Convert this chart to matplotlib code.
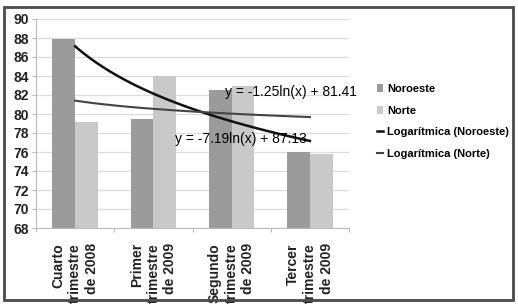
import numpy as np
import matplotlib as mpl
mpl.use('Agg')
import matplotlib.pyplot as plt
from matplotlib.patches import Rectangle

plt.rcParams['font.family'] = ['Liberation Sans', 'DejaVu Sans']

categories = ['Cuarto\ntrimestre\nde 2008', 'Primer\ntrimestre\nde 2009',
              'Segundo\ntrimestre\nde 2009', 'Tercer\ntrimestre\nde 2009']
noroeste = [87.9, 79.5, 82.5, 76.0]
norte = [79.2, 84.0, 83.0, 75.8]
# log trend coefficients as printed on the chart: y = a*ln(x) + b
trend_noroeste = (-7.19, 87.13)
trend_norte = (-1.25, 81.41)
yticks = list(range(68, 91, 2))

fig = plt.figure(figsize=(5.18, 3.05), dpi=100)
ax = fig.add_axes([36/518, 1 - 228/305, 313/518, 209/305])

x = np.arange(len(categories))
w = 0.29
b1 = ax.bar(x - w/2, noroeste, w, color='#9b9b9b', label='Noroeste', zorder=2)
b2 = ax.bar(x + w/2, norte, w, color='#c9c9c9', label='Norte', zorder=2)

xs = np.linspace(1, len(categories), 100)
a, b = trend_noroeste
l1, = ax.plot(xs - 1, a*np.log(xs) + b, color='#111111', lw=1.8,
              label='Logarítmica (Noroeste)', zorder=3)
a, b = trend_norte
l2, = ax.plot(xs - 1, a*np.log(xs) + b, color='#444444', lw=1.5,
              label='Logarítmica (Norte)', zorder=3)

ax.text(1.92, 82.3, 'y = -1.25ln(x) + 81.41', fontsize=10, va='center', ha='left', zorder=4)
ax.text(1.27, 77.4, 'y = -7.19ln(x) + 87.13', fontsize=10, va='center', ha='left', zorder=4)

ax.set_ylim(68, 90)
ax.set_xlim(-0.5, 3.5)
ax.set_yticks(yticks)
ax.set_yticklabels([str(t) for t in yticks], fontsize=10, fontweight='bold', color='#222222')
ax.yaxis.grid(True, color='#dcdcdc', lw=0.9, zorder=0)
ax.set_axisbelow(True)

ax.set_xticks(np.arange(-0.5, 4.0, 1.0))
ax.set_xticklabels([])
ax.tick_params(axis='x', length=3, color='#bbbbbb')
ax.tick_params(axis='y', length=3, color='#bbbbbb', pad=2)
for i, lab in enumerate(categories):
    ax.text(i, 66.4, lab, rotation=90, ha='center', va='top', ma='right',
            fontsize=10, fontweight='bold', color='#222222', linespacing=1.25)

for s in ['top', 'right']:
    ax.spines[s].set_visible(False)
ax.spines['left'].set_color('#bbbbbb')
ax.spines['bottom'].set_color('#bbbbbb')

fig.legend([b1, b2, l1, l2], [h.get_label() for h in (b1, b2, l1, l2)],
           loc='upper left', bbox_to_anchor=(377/518, 1 - 84/305), frameon=False,
           prop={'weight': 'bold', 'size': 8}, handlelength=0.5, handleheight=0.75,
           handletextpad=0.4, labelspacing=1.05, borderaxespad=0, borderpad=0)

fig.patches.append(Rectangle((4/518, 5/305), 509/518, 293/305, transform=fig.transFigure,
                             fill=False, edgecolor='#4a4a4a', lw=2.0))

fig.savefig('out.png', dpi=100)
